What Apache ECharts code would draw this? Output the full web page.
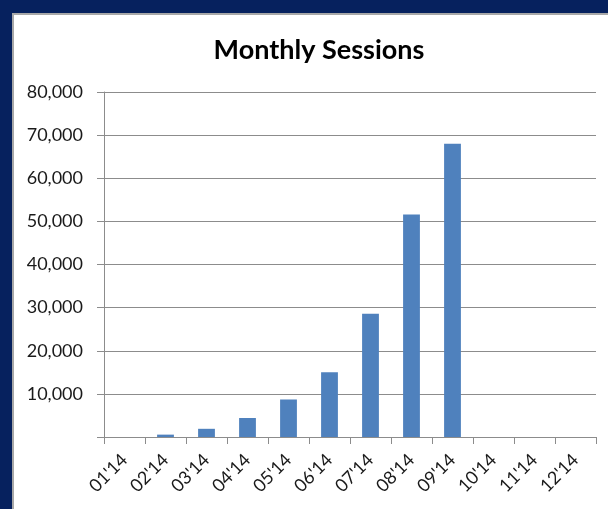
<!DOCTYPE html>
<html>
<head>
<meta charset="utf-8">
<script src="https://cdn.jsdelivr.net/npm/echarts@6/dist/echarts.min.js"></script>
<style>
  html, body { margin: 0; padding: 0; background: #ffffff; }
  #chart { width: 608px; height: 509px; }
</style>
</head>
<body>
<div id="chart"></div>
<script>
const titleText = "Monthly Sessions";
const months = ["01'14", "02'14", "03'14", "04'14", "05'14", "06'14", "07'14", "08'14", "09'14", "10'14", "11'14", "12'14"];
const sessions = [0, 550, 1900, 4400, 8700, 15000, 28600, 51600, 68000, null, null, null];
const yMin = 0;
const yMax = 80000;
const yStep = 10000;

const chart = echarts.init(document.getElementById('chart'), null, { renderer: 'canvas' });
const navy = '#06215E';
const gridGray = '#8c8c8c';
const textColor = '#1a1a1a';
const fontFam = 'Lato, "Open Sans", sans-serif';

chart.setOption({
  backgroundColor: '#ffffff',
  animation: false,
  title: {
    text: titleText,
    left: 314,
    top: 32,
    textAlign: 'center',
    textStyle: { fontFamily: fontFam, fontWeight: 'bold', fontSize: 27, color: '#000000' }
  },
  graphic: [
    { type: 'rect', shape: { x: 0, y: 0, width: 608, height: 13 }, style: { fill: navy }, z: 100 },
    { type: 'rect', shape: { x: 0, y: 0, width: 12, height: 509 }, style: { fill: navy }, z: 100 },
    { type: 'rect', shape: { x: 12, y: 13, width: 596, height: 2 }, style: { fill: '#a8a8a8' }, z: 100 },
    { type: 'rect', shape: { x: 12, y: 13, width: 2, height: 496 }, style: { fill: '#a8a8a8' }, z: 100 }
  ],
  grid: { left: 104, top: 92, width: 492, height: 345, containLabel: false },
  xAxis: {
    type: 'category',
    data: months,
    boundaryGap: true,
    axisLine: { show: true, lineStyle: { color: gridGray, width: 1 } },
    axisTick: { show: true, length: 7, alignWithLabel: false, lineStyle: { color: gridGray } },
    axisLabel: {
      rotate: 45, margin: 20, interval: 0,
      fontFamily: fontFam, fontSize: 18, color: textColor
    }
  },
  yAxis: {
    type: 'value',
    min: yMin, max: yMax, interval: yStep,
    axisLine: { show: true, lineStyle: { color: gridGray, width: 1 } },
    axisTick: { show: true, length: 7, lineStyle: { color: gridGray } },
    splitLine: { show: true, lineStyle: { color: gridGray, width: 1 } },
    axisLabel: {
      margin: 21,
      fontFamily: fontFam, fontSize: 18, color: textColor,
      formatter: function (v) { return v === 0 ? '' : v.toLocaleString('en-US'); }
    }
  },
  series: [{
    type: 'bar',
    data: sessions,
    barCategoryGap: '59%',
    itemStyle: { color: '#4F81BD' }
  }]
});
</script>
</body>
</html>
